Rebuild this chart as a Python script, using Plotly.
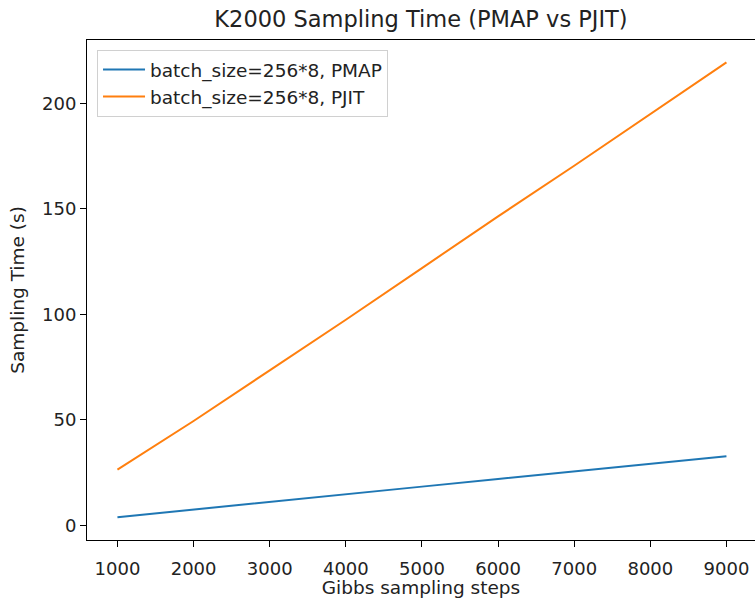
import plotly.graph_objects as go

# Gibbs sampling steps and measured wall-clock sampling time (seconds)
steps = [1000, 2000, 3000, 4000, 5000, 6000, 7000, 8000, 9000]
pmap_time = [3.9, 7.6, 11.2, 14.8, 18.4, 22.0, 25.6, 29.2, 32.8]
pjit_time = [26.5, 49.5, 73.5, 97.5, 122.0, 146.5, 170.5, 195.0, 219.5]

series_names = ["batch_size=256*8, PMAP", "batch_size=256*8, PJIT"]
x_ticks = [1000, 2000, 3000, 4000, 5000, 6000, 7000, 8000, 9000]
y_ticks = [0, 50, 100, 150, 200]

FONT = "DejaVu Sans"

fig = go.Figure()
fig.add_trace(go.Scatter(x=steps, y=pmap_time, mode="lines", name=series_names[0],
                         line=dict(color="#1f77b4", width=2)))
fig.add_trace(go.Scatter(x=steps, y=pjit_time, mode="lines", name=series_names[1],
                         line=dict(color="#ff7f0e", width=2)))

axis_common = dict(
    showgrid=False, zeroline=False, showline=True, linecolor="black", linewidth=1,
    ticks="outside", ticklen=6, tickwidth=1, tickcolor="black",
    tickfont=dict(family=FONT, size=18, color="#222222"),
)

fig.update_layout(
    width=755, height=598,
    margin=dict(l=87, r=0, t=40, b=58),
    paper_bgcolor="white", plot_bgcolor="white",
    title=dict(text="K2000 Sampling Time (PMAP vs PJIT)", x=0.5, xref="paper",
               y=1 - 19 / 598, yanchor="middle",
               font=dict(family=FONT, size=22.5, color="#222222")),
    xaxis=dict(range=[600, 9375], tickvals=x_ticks, mirror=True, ticklabelstandoff=6,
               title=dict(text="Gibbs sampling steps", standoff=2,
                          font=dict(family=FONT, size=18.5, color="#222222")),
               **axis_common),
    yaxis=dict(range=[-6.9, 230.1], tickvals=y_ticks,
               title=dict(text="Sampling Time (s)", standoff=12,
                          font=dict(family=FONT, size=18.5, color="#222222")),
               **axis_common),
    legend=dict(x=0.015, y=0.98, xanchor="left", yanchor="top", itemwidth=42,
                bgcolor="rgba(255,255,255,0.8)", bordercolor="#d0d0d0", borderwidth=1,
                font=dict(family=FONT, size=18.5, color="#222222")),
    showlegend=True,
)

fig.write_html("out.html")
